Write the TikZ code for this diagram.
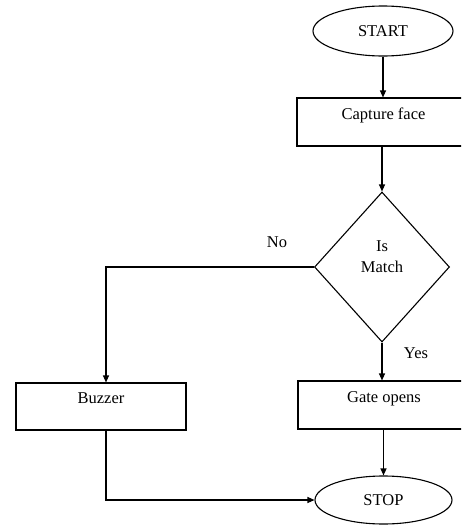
\documentclass[tikz,border=0pt]{standalone}
\usepackage{fontspec}
\setmainfont{Liberation Serif}
\usetikzlibrary{shapes.geometric,arrows.meta,calc}
\begin{document}
\begin{tikzpicture}[x=1pt,y=-1pt,
  every node/.style={font=\fontsize{16.5}{21}\selectfont},
  term/.style={draw,ellipse,line width=1.1pt,minimum width=140pt,minimum height=50pt,inner sep=0pt},
  procbox/.style={draw,rectangle,line width=1.1pt,inner sep=0pt,text height=11pt,text depth=17pt},
  decision/.style={draw,diamond,line width=1.1pt,minimum width=135pt,minimum height=150pt,inner sep=0pt},
  lbl/.style={inner sep=0pt},
  flow/.style={line width=1.1pt,-{Triangle[length=7pt,width=6pt]}},
  plain/.style={line width=1.1pt}]
\clip (0,0) rectangle (461,525);
\node[term] (start) at (383,31) {START};
\node[procbox,minimum width=173pt,minimum height=48pt] (capture) at (383.5,122) {Capture face};
\node[decision] (match) at (382,267) {};
\node[lbl,align=center] (matchtxt) at (382,257) {Is\\Match};
\node[procbox,minimum width=170pt,minimum height=47pt] (buzzer) at (101,406.5) {Buzzer};
\node[procbox,minimum width=172pt,minimum height=48pt] (gate) at (384,405) {Gate opens};
\node[term,minimum width=137pt,minimum height=48pt] (stop) at (383.5,500) {STOP};
\node[lbl] (no) at (277,242) {No};
\node[lbl] (yes) at (416,353) {Yes};
\coordinate (bz) at ($(buzzer.north)+(5,0)$);
\coordinate (bzs) at ($(buzzer.south)+(5,0)$);
\draw[flow] (start) -- (start |- capture.north);
\draw[flow] (capture.south -| match.north) -- (match.north);
\draw[flow] (match.west) -| (bz);
\draw[flow] (match.south) -- (match.south |- gate.north);
\draw[flow] (gate.south -| stop.north) -- (stop.north);
\draw[flow] (bzs) |- (stop.west);
\end{tikzpicture}
\end{document}
